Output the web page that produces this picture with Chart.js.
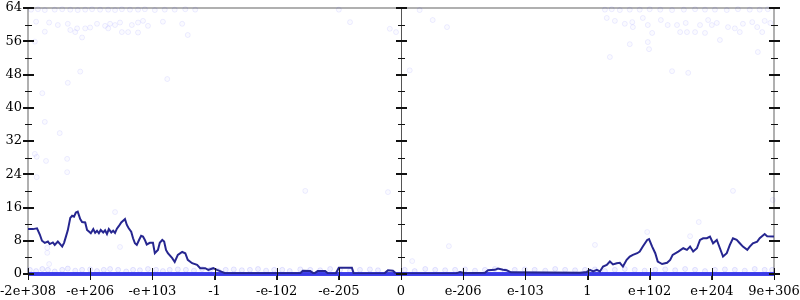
<!DOCTYPE html>
<html>
<head>
<meta charset="utf-8">
<script src="https://cdn.jsdelivr.net/npm/chart.js@4.4.1/dist/chart.umd.min.js"></script>
<style>
html,body{margin:0;background:#fff}
</style>
</head>
<body>
<canvas id="chart" width="800" height="300"></canvas>
<script>
// tick labels, one per unit step of the x scale (0..12)
const xTickLabels = ["-2e+308","-e+206","-e+103","-1","-e-102","-e-205","0","e-206","e-103","1","e+102","e+204","9e+306"];
const zeroPos = 6;
const yMajorTicks = [0,8,16,24,32,40,48,56,64];
const yMinorTicks = [4,12,20,28,36,44,52,60];

// running line
const lineX = [0,0.08,0.145,0.19,0.225,0.27,0.32,0.35,0.40,0.43,
0.48,0.51,0.55,0.58,0.61,0.64,0.68,0.71,0.74,0.77,
0.80,0.84,0.87,0.92,0.95,0.98,1.01,1.05,1.08,1.11,
1.14,1.17,1.21,1.24,1.27,1.30,1.34,1.37,1.40,1.43,
1.46,1.50,1.53,1.56,1.59,1.62,1.66,1.69,1.72,1.75,
1.79,1.82,1.85,1.88,1.91,1.96,2.01,2.04,2.09,2.12,
2.16,2.19,2.22,2.25,2.32,2.36,2.41,2.48,2.53,2.57,
2.64,2.72,2.77,2.85,2.90,2.98,3.04,3.12,3.17,4.38,
4.42,4.54,4.60,4.66,4.78,4.83,4.95,5.00,5.21,5.24,
5.73,5.79,5.87,5.92,6.87,6.95,7.03,7.35,7.40,7.51,
7.56,7.64,7.70,7.77,8.88,8.99,9.04,9.09,9.15,9.20,
9.25,9.31,9.36,9.41,9.47,9.52,9.57,9.63,9.68,9.73,
9.80,9.84,9.89,9.96,9.99,10.04,10.09,10.13,10.20,10.28,
10.33,10.37,10.46,10.54,10.60,10.65,10.70,10.76,10.81,10.86,
10.92,10.97,11.02,11.08,11.13,11.18,11.24,11.29,11.34,11.40,
11.45,11.50,11.57,11.61,11.66,11.73,11.77,11.85,11.89,12.00];
const lineY = [10.8,10.8,11.0,9.5,8.0,7.5,7.8,7.2,7.6,7.0,
7.8,7.3,6.6,7.5,9.0,10.5,13.5,14.0,13.8,14.8,
15.0,13.2,12.5,12.4,10.6,10.2,9.8,10.8,9.9,10.4,
9.8,10.6,10.0,10.5,9.6,10.8,10.0,10.4,9.9,10.9,
11.5,12.4,12.8,13.2,11.8,11.0,10.2,8.6,7.4,7.0,
8.3,9.2,9.0,8.2,7.1,7.5,7.5,5.0,5.8,7.5,
8.2,7.8,5.8,5.0,3.8,2.9,4.6,5.3,5.0,3.4,
2.6,2.2,1.4,1.4,1.0,1.4,1.0,0.5,0.2,0.2,
0.8,0.7,0.1,0.7,0.7,0.1,0.1,1.5,1.5,0.1,
0.1,0.9,0.8,0.1,0.1,0.5,0.2,0.3,0.9,1.0,
1.3,1.0,0.9,0.4,0.3,0.5,1.0,0.6,1.0,0.6,
1.8,2.2,3.0,2.3,2.6,2.7,1.8,3.4,4.2,4.6,
5.0,5.4,6.6,8.2,8.4,6.6,5.0,3.0,2.4,2.7,
3.4,4.6,5.4,6.2,5.8,6.6,5.4,6.2,8.2,8.6,
8.6,9.0,7.4,8.2,6.2,4.2,5.0,7.0,8.6,8.2,
7.4,6.6,5.8,6.6,7.4,7.8,8.6,9.6,9.1,9.0];

// scattered samples
const dotX = [0.13,0.34,0.48,0.64,0.27,0.68,0.76,0.87,0.79,0.92,1.00,1.11,1.24,1.32,1.29,1.40,1.48,1.51,1.61,1.67,1.77,1.77,1.85,1.93,2.17,2.48,2.57,
0.11,0.84,0.64,2.24,0.23,0.27,0.51,0.11,0.14,0.29,0.63,0.63,0.14,1.40,0.31,0.31,0.34,1.48,
4.46,5.79,6.77,6.18,9.12,9.96,11.34,10.79,10.65,11.98,5.18,5.82,5.92,6.51,6.74,6.14,
9.31,9.44,9.60,9.72,9.73,9.89,9.97,10.04,10.18,10.29,10.44,10.49,10.58,10.60,10.73,10.81,10.89,10.94,11.00,11.08,11.13,11.26,11.37,11.45,11.50,11.65,11.73,11.81,11.85,11.94,
9.68,9.97,9.99,9.36,10.36,10.62,11.74,
0.05,0.16,0.27,0.43,0.55,0.68,0.80,0.92,1.03,1.16,1.29,1.40,1.51,1.64,1.77,1.88,2.04,2.20,2.36,2.53,2.69,
9.28,9.39,9.52,9.68,9.84,10.00,10.17,10.36,10.55,10.73,10.89,11.05,11.24,11.42,11.61,11.77,11.90,5.00,6.30];
const dotY = [60.7,60.5,59.9,60.2,58.3,58.7,58.2,56.9,59.1,59.1,59.3,60.2,59.7,60.2,59.1,59.9,60.5,58.2,58.2,59.9,60.5,58.1,60.9,59.7,60.7,60.2,57.5,
55.9,48.7,46.0,46.9,43.5,36.6,33.9,28.9,28.2,27.2,27.7,24.5,23.3,14.9,6.3,5.1,2.4,6.5,
20.0,19.7,6.7,3.1,7.0,10.1,20.0,12.5,9.1,17.8,60.6,59.0,58.2,61.1,59.4,49.0,
61.6,60.9,60.2,60.6,59.4,61.6,59.9,58.0,61.1,59.9,59.9,58.2,60.4,58.2,58.2,59.9,58.0,61.1,59.9,60.4,56.3,59.4,59.1,58.2,60.2,60.6,59.4,58.2,60.9,60.4,
55.3,55.8,54.1,52.2,48.8,48.4,53.4,
63.6,63.7,63.5,63.6,63.7,63.6,63.5,63.6,63.7,63.6,63.6,63.5,63.7,63.6,63.6,63.7,63.5,63.6,63.6,63.7,63.6,
63.6,63.7,63.5,63.6,63.6,63.7,63.6,63.5,63.6,63.7,63.6,63.6,63.5,63.7,63.6,63.6,63.7,63.6,63.5];

// low row just above zero
const rowX = [0.03,0.13,0.23,0.32,0.43,0.55,0.64,0.76,0.87,1.00,1.11,1.22,1.32,1.45,1.58,1.69,1.80,1.93,2.06,2.17,2.28,2.41,2.54,2.67,2.80,2.93,3.06,3.18,3.31,3.44,3.57,3.70,3.83,3.96,4.09,4.21,4.38,4.54,4.70,4.86,5.02,5.18,5.34,5.50,5.63,
6.06,6.22,6.39,6.55,6.71,6.87,7.03,7.19,7.35,7.51,7.67,7.83,7.99,8.15,8.32,8.48,8.64,8.80,8.96,9.12,9.28,9.44,9.60,9.76,9.92,10.09,10.25,10.41,10.57,10.73,10.89,11.05,11.21,11.37,11.53,11.69,11.85,11.97];
const rowY = [1.0,0.7,1.2,1.0,0.6,1.0,1.3,0.8,1.0,1.1,0.7,1.0,1.2,1.0,0.6,1.0,0.9,1.2,1.0,0.7,1.0,1.1,1.0,0.8,1.2,1.0,0.7,1.0,1.1,0.9,1.0,1.2,0.8,1.0,1.0,0.7,1.1,1.0,0.9,1.2,1.0,0.8,1.0,1.1,0.9,
1.0,0.7,1.2,1.0,0.9,1.0,1.1,0.8,1.0,1.2,0.7,1.0,1.1,1.0,0.8,1.2,1.0,0.9,1.0,1.1,0.7,1.0,1.2,1.0,0.8,1.0,1.1,0.9,1.2,1.0,0.7,1.0,1.1,1.0,0.8,1.2,1.0,1.0];

// dense band at zero
const bandX = [0,12];
const bandY = [0,0];

const toPoints = (xs, ys) => xs.map((x,i) => ({x:x, y:ys[i]}));

// frame, centre axis and tick marks on both sides of the three vertical axes
const axisMarks = {
id:"axisMarks",
beforeDatasetsDraw(chart){
const {ctx, chartArea:a} = chart;
ctx.save();
ctx.strokeStyle="#b0b0b0";
ctx.lineWidth=2;
ctx.strokeRect(a.left,a.top,a.right-a.left,a.bottom-a.top);
ctx.restore();
},
afterDraw(chart){
const {ctx, chartArea:a, scales} = chart;
const xs = scales.x, ys = scales.y;
ctx.save();
ctx.globalAlpha=1;
ctx.globalCompositeOperation="source-over";
const cx = Math.round(xs.getPixelForValue(zeroPos));
ctx.fillStyle="#555";
ctx.fillRect(cx,a.top,1,a.bottom-a.top);
ctx.fillStyle="#111";
const vAxes=[Math.round(a.left), cx, Math.round(a.right)];
vAxes.forEach(px=>{
yMajorTicks.forEach(v=>{
const py=Math.round(ys.getPixelForValue(v));
ctx.fillRect(px-5,py-1,11,2);
});
yMinorTicks.forEach(v=>{
const py=Math.round(ys.getPixelForValue(v));
ctx.fillRect(px-3,py,7,1);
});
});
xTickLabels.forEach((lab,i)=>{
const px=Math.round(xs.getPixelForValue(i));
ctx.fillRect(px,Math.round(a.bottom)-6,1,12);
});
ctx.restore();
}
};

Chart.defaults.font.family='"DejaVu Serif", serif';
Chart.defaults.font.size=13;
Chart.defaults.color="#000";

new Chart(document.getElementById("chart"),{
type:"scatter",
data:{
datasets:[
{
data:toPoints(lineX,lineY),
showLine:true,
borderColor:"#262690",
borderWidth:2,
pointRadius:0,
tension:0
},
{
data:toPoints(bandX,bandY),
showLine:true,
borderColor:"rgba(45,45,235,0.9)",
borderWidth:4,
pointRadius:0,
clip:false
},
{
data:toPoints(rowX,rowY),
pointRadius:2.5,
borderWidth:1,
borderColor:"rgba(0,0,255,0.10)",
backgroundColor:"rgba(0,0,255,0.05)",
clip:false
},
{
data:toPoints(dotX,dotY),
pointRadius:2.5,
borderWidth:1,
borderColor:"rgba(0,0,255,0.07)",
backgroundColor:"rgba(0,0,255,0.02)",
clip:false
}
]
},
options:{
responsive:false,
animation:false,
layout:{padding:{top:8,right:26,left:0,bottom:0}},
plugins:{legend:{display:false},tooltip:{enabled:false}},
scales:{
x:{
type:"linear",
min:0,
max:12,
grid:{display:true,drawOnChartArea:false,drawTicks:true,tickLength:6,color:"#222"},
border:{display:false},
ticks:{
stepSize:1,
autoSkip:false,
maxRotation:0,
padding:4,
callback:v=>xTickLabels[v]
},
afterFit:s=>{s.height=26;s.paddingLeft=0;s.paddingRight=0;}
},
y:{
min:0,
max:64,
grid:{display:true,drawOnChartArea:false,drawTicks:true,tickLength:5,color:"#222"},
border:{display:false},
ticks:{stepSize:8,padding:1},
afterFit:s=>{s.width=28;s.paddingTop=0;s.paddingBottom=0;}
}
}
},
plugins:[axisMarks]
});
</script>
</body>
</html>
